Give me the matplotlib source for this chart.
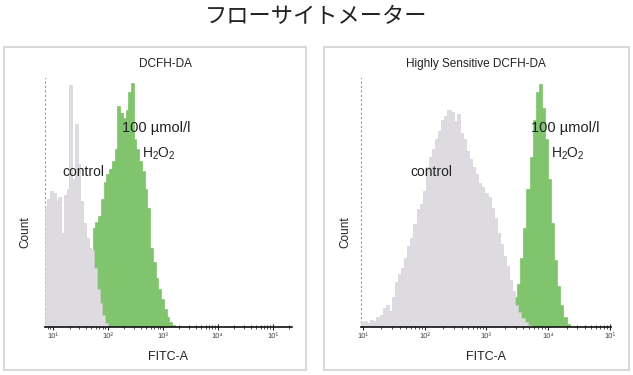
import numpy as np
import matplotlib
matplotlib.use("Agg")
import matplotlib.pyplot as plt
from matplotlib.patches import Rectangle

plt.rcParams['font.family'] = ['Liberation Sans', 'DejaVu Sans']

# histogram data: log10(FITC-A) bin starts, bin width 0.05 decade, counts per bin
bin_w = 0.05

left_ctrl_start = 0.85
left_ctrl = [122, 130, 138, 136, 128, 132, 95, 134, 140, 245, 150, 205, 165,
             128, 105, 90, 80, 78, 60, 38, 24, 12, 4]

left_h2o2_start = 1.72
left_h2o2 = [100, 106, 112, 130, 147, 155, 160, 168, 180, 224, 217, 212, 220,
             238, 247, 190, 180, 168, 158, 140, 120, 80, 66, 50, 38, 28, 18,
             10, 5, 2]

right_ctrl_start = 0.97
right_ctrl = [5, 6, 4, 7, 6, 10, 12, 19, 22, 16, 30, 46, 54, 60, 70, 82, 90,
              104, 119, 124, 138, 162, 172, 180, 190, 198, 210, 214, 220, 218,
              208, 216, 196, 190, 178, 170, 162, 155, 146, 142, 136, 132, 120,
              110, 95, 84, 72, 62, 48, 36, 22, 15, 9, 5, 2]

right_h2o2_start = 3.45
right_h2o2 = [30, 44, 70, 100, 140, 172, 210, 238, 246, 222, 190, 150, 105,
              68, 42, 22, 10, 3]

decades = [1, 2, 3, 4, 5]
decade_labels = ['10¹', '10²', '10³', '10⁴', '10⁵']

panel_titles = ['DCFH-DA', 'Highly Sensitive DCFH-DA']

GRAY = '#dddbe0'
GRAY_EDGE = '#d0cdd3'
GREEN = '#80c46e'
GREEN_EDGE = '#6fba56'

W, H = 633, 375
fig = plt.figure(figsize=(W / 100, H / 100), dpi=100)


def fx(px):
    return px / W


def fy(py):
    return 1 - py / H


def edges(start, vals):
    return start + bin_w * np.arange(len(vals) + 1)


def draw_panel(ax, ctrl_start, ctrl, h_start, h2o2, xlim):
    ax.stairs(h2o2, edges(h_start, h2o2), fill=True, facecolor=GREEN,
              edgecolor=GREEN_EDGE, linewidth=0.4, zorder=2)
    ax.stairs(ctrl, edges(ctrl_start, ctrl), fill=True, facecolor=GRAY,
              edgecolor=GRAY_EDGE, linewidth=0.4, zorder=3)
    ax.set_xlim(*xlim)
    ax.set_ylim(0, 252)
    for s in ['top', 'right']:
        ax.spines[s].set_visible(False)
    ax.spines['bottom'].set_color('#111111')
    ax.spines['bottom'].set_linewidth(1.2)
    ax.spines['bottom'].set_zorder(5)
    ax.spines['left'].set_color('#999999')
    ax.spines['left'].set_linewidth(0.8)
    ax.spines['left'].set_linestyle((0, (1, 3)))
    ax.set_yticks([])
    ax.set_xticks(decades)
    ax.set_xticklabels(decade_labels, fontsize=5.5, color='#444444')
    minor = [d + np.log10(m) for d in range(0, 6) for m in range(2, 10)]
    ax.set_xticks([m for m in minor if xlim[0] <= m <= xlim[1]], minor=True)
    ax.tick_params(axis='x', which='major', direction='inout', length=5,
                   width=0.8, color='#222222', pad=2)
    ax.tick_params(axis='x', which='minor', direction='inout', length=2.5,
                   width=0.6, color='#333333')
    ax.patch.set_alpha(0)


# panel frames
for x0, x1 in [(4, 306), (324, 629)]:
    fig.patches.append(Rectangle((fx(x0), fy(370)), fx(x1 - x0), (370 - 47) / H,
                                 transform=fig.transFigure, fill=False,
                                 edgecolor='#d2d2d2', linewidth=1.2))

axL = fig.add_axes([fx(45), fy(327), fx(247), 249 / H])
draw_panel(axL, left_ctrl_start, left_ctrl, left_h2o2_start, left_h2o2, (0.855, 5.35))

axR = fig.add_axes([fx(361), fy(327), fx(250), 249 / H])
draw_panel(axR, right_ctrl_start, right_ctrl, right_h2o2_start, right_h2o2, (0.97, 5.02))

fig.text(0.5, fy(17), 'フローサイトメーター', ha='center', va='center',
         fontsize=16, family=['Noto Sans CJK JP', 'DejaVu Sans'], color='#222222')

for cx, title in zip([165, 476], panel_titles):
    fig.text(fx(cx), fy(64), title, ha='center', va='center', fontsize=8.5,
             color='#222222')

for ax_left, ax_mid in [(25, 168), (345, 486)]:
    fig.text(fx(ax_left), fy(232), 'Count', ha='center', va='center',
             rotation=90, fontsize=8.5, color='#222222')
    fig.text(fx(ax_mid), fy(357), 'FITC-A', ha='center', va='center',
             fontsize=9, color='#222222')

# annotations
for c_x, t_x, h_x in [(62, 122, 142), (410, 531, 551)]:
    fig.text(fx(c_x), fy(172), 'control', ha='left', va='center',
             fontsize=10, color='#222222', zorder=10)
    fig.text(fx(t_x), fy(128), '100 µmol/l', ha='left', va='center',
             fontsize=10.5, color='#222222', zorder=10)
    fig.text(fx(h_x), fy(154), r'$\mathregular{H_2O_2}$', ha='left',
             va='center', fontsize=10, color='#222222', zorder=10)

fig.savefig('out.png', dpi=100)
